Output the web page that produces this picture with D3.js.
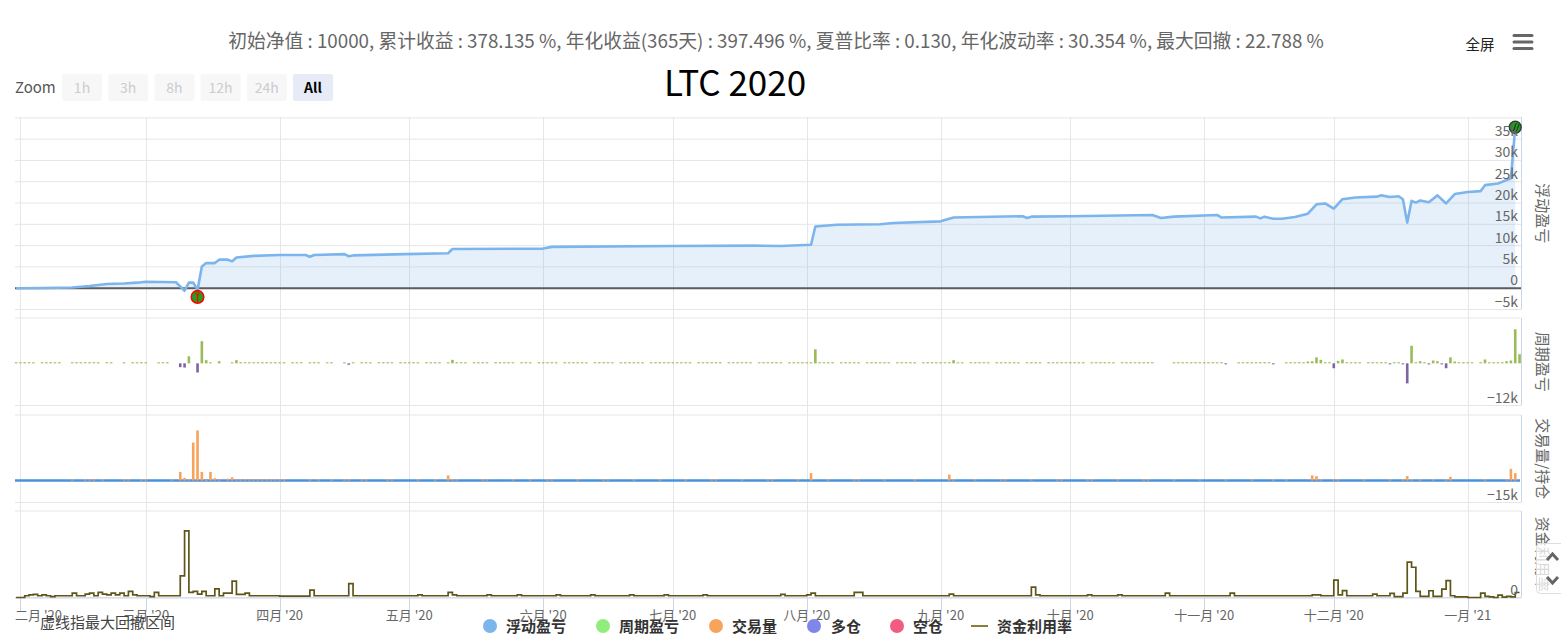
<!DOCTYPE html>
<html><head><meta charset="utf-8">
<script src="https://cdn.jsdelivr.net/npm/d3@7/dist/d3.min.js"></script>
<style>
body{margin:0;background:#fff;}
svg{display:block;font-family:"Noto Sans CJK SC","Noto Sans",sans-serif;}
</style></head><body>
<svg id="c" width="1561" height="642"></svg>
<script>
// ---------------- DATA ----------------
const titleText = "LTC 2020";
const statsText = "初始净值 : 10000, 累计收益 : 378.135 %, 年化收益(365天) : 397.496 %, 夏普比率 : 0.130, 年化波动率 : 30.354 %, 最大回撤 : 22.788 %";
const zoomButtons = ["1h","3h","8h","12h","24h","All"];
const seriesNames = ["浮动盈亏","周期盈亏","交易量","多仓","空仓","资金利用率"];
const paneTitles = ["浮动盈亏","周期盈亏","交易量/持仓","资金利用率"];
const xTickDates = ["2020-02-01","2020-03-01","2020-04-01","2020-05-01","2020-06-01","2020-07-01","2020-08-01","2020-09-01","2020-10-01","2020-11-01","2020-12-01","2021-01-01"];
const xTickLabels = ["二月 '20","三月 '20","四月 '20","五月 '20","六月 '20","七月 '20","八月 '20","九月 '20","十月 '20","十一月 '20","十二月 '20","一月 '21"];
const equityTicks = [-5,0,5,10,15,20,25,30,35,40];   // k

// 浮动盈亏 (k) at change points
const equityDates = ["2020-01-31","2020-02-06","2020-02-13","2020-02-17","2020-02-21","2020-02-25","2020-02-28","2020-03-01","2020-03-08","2020-03-10","2020-03-11","2020-03-12","2020-03-13","2020-03-14","2020-03-15","2020-03-17","2020-03-18","2020-03-20","2020-03-21","2020-03-22","2020-03-26","2020-04-01","2020-04-07","2020-04-08","2020-04-09","2020-04-16","2020-04-17","2020-04-18","2020-04-30","2020-05-10","2020-05-11","2020-06-01","2020-06-03","2020-07-01","2020-07-20","2020-07-26","2020-08-02","2020-08-03","2020-08-08","2020-08-18","2020-08-21","2020-09-01","2020-09-04","2020-09-20","2020-09-21","2020-09-22","2020-10-01","2020-10-20","2020-10-22","2020-10-25","2020-11-04","2020-11-05","2020-11-13","2020-11-14","2020-11-15","2020-11-17","2020-11-19","2020-11-22","2020-11-25","2020-11-27","2020-11-29","2020-12-01","2020-12-03","2020-12-06","2020-12-11","2020-12-12","2020-12-14","2020-12-16","2020-12-17","2020-12-18","2020-12-19","2020-12-20","2020-12-21","2020-12-23","2020-12-25","2020-12-27","2020-12-29","2021-01-01","2021-01-04","2021-01-05","2021-01-08","2021-01-10","2021-01-11","2021-01-12"];
const equityValues = [0,0.05,0.15,0.5,1.0,1.1,1.3,1.5,1.4,-0.6,1.3,1.3,-0.4,5.1,5.9,5.9,6.7,6.7,6.3,7.2,7.6,7.8,7.8,7.4,7.8,8.0,7.5,7.7,8.0,8.2,9.2,9.3,9.7,9.9,10.0,9.9,10.2,14.5,14.9,15.0,15.3,15.7,16.6,16.9,16.5,16.8,16.9,17.2,16.5,16.8,17.2,16.6,16.8,16.4,16.8,16.3,16.3,16.7,17.5,19.7,19.9,18.7,20.9,21.3,21.5,21.8,21.4,21.6,20.9,15.4,20.5,20.1,20.6,20.2,21.8,19.9,22.1,22.6,22.8,24.2,24.6,25.4,25.8,37.8];

// daily series, first day 2020-01-31
const firstDay = "2020-01-31";
// 周期盈亏 (k)
const periodPnl = [0.3,
 .3,.3,.3,.3,0,.3,.3,.3,.3,.3,0,0,.3,.3,.3,.3,.3,.3,.3,0,.3,.3,0,0,.3,0,.3,.3,.3,
 .3,0,0,.3,.3,.3,0,0,-1.1,-1.2,2.0,0,-2.6,6.3,0.9,.3,0,0.6,0,0,.3,0.9,.3,.3,.3,.3,.3,.3,.3,.3,.3,
 .3,.3,0,.3,.3,.3,0,.3,.3,.3,0,.3,.3,0,0,.3,-0.4,.3,0,.3,.3,.3,0,.3,.3,.3,.3,0,.3,.3,
 .3,.3,.3,0,.3,.3,.3,.3,0,.3,1.0,.3,.3,.3,0,.3,.3,.3,.3,0,.3,.3,.3,.3,.3,0,.3,.3,.3,0,.3,
 .3,.3,.3,.3,0,.3,.3,.3,.3,.3,.3,0,.3,.3,.3,.3,.3,0,.3,.3,.3,.3,.3,.3,0,.3,.3,.3,.3,.3,
 .3,.3,.3,.3,.3,0,.3,.3,.3,.3,.3,.3,0,.3,.3,.3,.3,.3,.3,0,.3,.3,.3,.3,.3,.3,0,.3,.3,.3,.3,
 .3,.3,4.0,.3,.3,.3,.3,0,.3,.3,.3,.3,.3,0,.3,.3,.3,.3,.3,.3,0,.3,.3,.3,.3,.3,0,.3,.3,.3,.3,
 .3,.3,.3,0.9,.3,.3,0,.3,.3,.3,.3,.3,0,.3,.3,.3,.3,.3,.3,0,.3,.3,.3,.3,0,.3,.3,.3,.3,.3,
 .3,.3,.3,.3,0,.3,.3,.3,.3,.3,.3,0,.3,.3,.3,.3,.3,.3,.3,.3,0,0,0,0,.3,.3,.3,.3,.3,.3,.3,
 .3,.3,.3,.3,.3,-0.2,0,0,.3,.3,.3,.3,.3,.3,.3,.3,-0.2,0,0,.3,.3,.3,.3,.3,0.5,0.6,1.7,1.0,.3,.3,
 -1.4,0.7,1.1,.3,.3,.3,.3,0,.3,.3,.3,.3,.3,-0.2,.3,.3,-0.2,-5.7,5.0,.3,0.6,.3,-0.3,0.8,0.6,-0.3,-1.4,1.7,0.5,.3,.3,
 .3,.3,0,.3,1.1,.3,.3,.3,.3,0.6,0.8,9.7,2.6];
// 交易量 (k)
const volume = [0,
 0,0,0,0,0,0,0,0,0,0,0,0,.8,0,0,.8,.8,.8,0,.8,0,0,0,0,.8,.8,0,0,.8,
 .8,0,0,0,0,0,.8,0,5.8,1.8,.8,25.9,34.2,5.8,.5,5.8,1.6,.7,0,1.3,2.2,.7,.8,.8,.8,.8,.8,.8,.8,.8,.8,
 .8,.8,0,0,0,0,0,.8,0,.8,0,0,.8,0,0,.8,.8,0,0,.8,.8,0,0,0,0,.8,.8,0,0,0,
 0,0,.8,0,0,0,.8,0,0,3.5,.8,.8,0,0,0,0,0,.8,.8,0,0,0,0,0,.8,0,0,0,.8,0,0,
 0,.8,.8,0,0,0,0,0,.8,0,0,0,0,0,.8,.8,0,0,0,0,0,.8,0,0,0,0,0,.8,0,0,
 0,0,0,.8,0,0,0,0,0,.8,.8,0,0,0,0,0,.8,0,0,0,0,0,.8,.8,0,0,0,0,0,.8,0,
 0,5.0,0,0,0,.8,0,0,0,0,0,.8,.8,0,0,0,0,0,.8,0,0,0,0,0,0,.8,0,0,0,0,0,
 0,0,4.0,.8,0,0,0,0,.8,0,0,0,0,0,.8,.8,0,0,0,0,0,.8,0,0,0,0,0,.8,.8,0,
 0,0,0,0,.8,.8,0,0,0,0,0,.8,0,0,0,0,0,.8,.8,0,0,0,0,0,.8,0,0,0,0,0,.8,
 0,0,0,0,0,.8,0,0,0,0,0,.8,0,0,0,0,.8,0,0,.8,0,0,0,0,0,3.5,3.0,.8,0,0,
 .8,.8,0,0,0,0,0,.8,0,0,0,0,0,.8,0,0,.8,3.0,.8,0,.8,0,0,.8,0,0,.8,2.5,0,0,0,
 0,0,0,0,.8,0,0,0,0,.8,8.0,5.0,0];
// 资金利用率 (%)
const utilization = [0,
 0,2,3,3.5,2,3,2,1,2,2,2,2,5,2,2,4,5,2,6,4,3,5,3,5,2,7,3,2,2,
 2,1,6,2,2,2,2,2,25,77,6,7,4,7,2,2,10,2,5,5,19,3.5,3.5,5,2,2,2,2,2,2,2,
 1.5,1.5,1.5,1.5,1.5,1.5,1.5,8.5,2,2,2,2,2,2,2,2,16,2,2,2,2,2,2,2,2,2,2,2,2,2,
 2,2,3,2,2,2,2,2,2,6,3,2,2,2,2,2,2,2,3,2,2,2,2,2,2,3,2,2,2,2,2,
 2,2,2,3,2,2,2,2,2,2,2,3,2,2,2,2,2,2,2,2,3,2,2,2,2,2,2,2,3,2,
 2,2,2,2,2,2,2,3,2,2,2,2,2,2,2,2,2,2,2,2,2,2,2,2,2,3.5,2,2,2,2,2,
 3,5,2,2,2,2,2,2,2,2,2,6,6,2,2,2,2,2,2,2,2,2,2,2,2,2,2,2,2,2,2,
 2,2,4,2,2,2,2,2,2,2,2,2,2,2,2,2,2,2,2,2,2,12,3,2,2,2,2,2,2,2,
 2,2,2,2,3,2,2,2,2,2,2,3,2,2,2,2,2,2,2,2,2,2,5,2,2,2,2,2,2,2,2,
 2,2,2,2,2,2,5,2,2,2,2,2,2,2,2,2,2,2,2,2,2,2,2,2,2,3,3,2,2,2,
 20,3,8,2,2,2,2,2,2,4,2,2,2,4.7,1,1,5,41,35,7,1.2,1.2,7.8,1.2,1.2,9.7,19.4,2,.8,.8,.8,
 0,0,0,5,1.2,.8,0,2.7,.4,1.2,.8,5.8,5.8];
const maxDrawdownDate = "2020-03-13";
const noteText = "虚线指最大回撤区间";

// ---------------- CHART ----------------
const svg = d3.select("#c");
const parse = d3.utcParse("%Y-%m-%d");
const DAY = 864e5;
const t0 = parse(firstDay).getTime();
const dayDate = i => new Date(t0 + i * DAY);

const L = 15, R = 1521;
const x = d3.scaleUtc().domain([new Date(Date.UTC(2020,0,30,18)), new Date(Date.UTC(2021,0,13,8))]).range([L, R]);
const panes = [
  {top:117, bottom:309.5, domain:[-5,40.2]},
  {top:318, bottom:405.5, domain:[-12,12.9]},
  {top:415, bottom:502.5, domain:[-15,44.7]},
  {top:511, bottom:597.5, domain:[0,100]}
];
panes.forEach(p => p.y = d3.scaleLinear().domain(p.domain).range([p.bottom, p.top]));
const [y1, y2, y3, y4] = panes.map(p => p.y);

const grid = svg.append("g");
// vertical grid
xTickDates.forEach(d => {
  const xx = Math.round(x(parse(d))) + 0.5;
  grid.append("line").attr("x1", xx).attr("x2", xx).attr("y1", 117).attr("y2", 598).attr("stroke", "#e6e6e6");
  grid.append("line").attr("x1", xx).attr("x2", xx).attr("y1", 598).attr("y2", 611).attr("stroke", "#ccd6eb");
});
// horizontal grid pane 1
equityTicks.forEach(v => {
  const yy = y1(v);
  grid.append("line").attr("x1", L).attr("x2", R).attr("y1", yy).attr("y2", yy).attr("stroke", "#e6e6e6");
});
[1,2,3].forEach(k => {
  const p = panes[k];
  [p.top, p.bottom].forEach(yy => grid.append("line").attr("x1", L).attr("x2", R).attr("y1", yy).attr("y2", yy).attr("stroke", "#e6e6e6"));
});
// axis lines
panes.forEach(p => grid.append("line").attr("x1", R + 0.5).attr("x2", R + 0.5).attr("y1", p.top).attr("y2", p.bottom).attr("stroke", "#ccd6eb"));
grid.append("line").attr("x1", L).attr("x2", R).attr("y1", 598).attr("y2", 598).attr("stroke", "#ccd6eb");

// equity
const eq = equityDates.map((d, i) => ({d: parse(d), v: equityValues[i]}));
svg.append("path").datum(eq)
  .attr("d", d3.area().x(d => x(d.d)).y0(y1(0)).y1(d => y1(d.v)))
  .attr("fill", "rgba(124,181,236,0.2)");
svg.append("line").attr("x1", L).attr("x2", R).attr("y1", y1(0)).attr("y2", y1(0)).attr("stroke", "#5c5c5c").attr("stroke-width", 2);
svg.append("path").datum(eq)
  .attr("d", d3.line().x(d => x(d.d)).y(d => y1(d.v)))
  .attr("fill", "none").attr("stroke", "#7cb5ec").attr("stroke-width", 2.6).attr("stroke-linejoin", "round");

// drawdown marker (circle pin)
{
  const md = parse(maxDrawdownDate);
  const pt = eq.find(e => +e.d === +md);
  const mx = x(md), my = y1(pt.v);
  const g = svg.append("g");
  g.append("circle").attr("cx", mx).attr("cy", my + 7).attr("r", 6.3).attr("fill", "#20a020").attr("stroke", "#ff0000").attr("stroke-width", 1.5);
  g.append("line").attr("x1", mx).attr("x2", mx).attr("y1", my + 4).attr("y2", my + 12.5).attr("stroke", "#ff0000").attr("stroke-width", 1.2);
  g.append("circle").attr("cx", mx).attr("cy", my + 3.5).attr("r", 1.6).attr("fill", "none").attr("stroke", "#ff0000").attr("stroke-width", 1);
}

// pane 2 bars
const bw = 2.6;
svg.append("g").selectAll("rect").data(periodPnl.map((v, i) => ({d: dayDate(i), v})).filter(d => d.v !== 0))
  .join("rect")
  .attr("x", d => x(d.d) - bw / 2).attr("width", bw)
  .attr("y", d => Math.min(y2(d.v), y2(0))).attr("height", d => Math.max(1, Math.abs(y2(d.v) - y2(0))))
  .attr("fill", d => d.v >= 0 ? "#9bbb59" : "#8064a2");

// pane 3: position lines then volume bars
svg.append("line").attr("x1", L).attr("x2", R - 1).attr("y1", y3(0)).attr("y2", y3(0)).attr("stroke", "#4a90dc").attr("stroke-width", 2.5);
svg.append("g").selectAll("rect").data(volume.map((v, i) => ({d: dayDate(i), v})).filter(d => d.v !== 0))
  .join("rect")
  .attr("x", d => x(d.d) - bw / 2).attr("width", bw)
  .attr("y", d => y3(d.v)).attr("height", d => Math.max(1, y3(0) - y3(d.v)))
  .attr("fill", "#f7a35c");

// pane 4 step line
svg.append("path").datum(utilization.map((v, i) => ({d: dayDate(i), v})))
  .attr("d", d3.line().curve(d3.curveStepAfter).x(d => x(d.d)).y(d => y4(d.v)))
  .attr("fill", "none").attr("stroke", "#5f5519").attr("stroke-width", 1.7);

// end marker
{
  const last = eq[eq.length - 1];
  const ex = x(last.d), ey = y1(last.v);
  svg.append("circle").attr("cx", ex).attr("cy", ey).attr("r", 6).attr("fill", "#1e9a1e").attr("stroke", "#333").attr("stroke-width", 1.2);
  svg.append("path").attr("d", `M${ex-2},${ey+4}L${ex+1},${ey-4}M${ex+1},${ey+4}L${ex+4},${ey-3}`).attr("stroke", "#222").attr("stroke-width", 1);
}

// y labels
const lab = svg.append("g").attr("font-size", 14).attr("fill", "#666").attr("text-anchor", "end");
const fmtK = v => v === 0 ? "0" : (v < 0 ? "\u2212" + (-v) : v) + "k";
equityTicks.filter(v => v < 40).forEach(v => lab.append("text").attr("x", 1518).attr("y", y1(v) - 3).text(fmtK(v)));
lab.append("text").attr("x", 1518).attr("y", y2(-12) - 3).text(fmtK(-12));
lab.append("text").attr("x", 1518).attr("y", y3(-15) - 3).text(fmtK(-15));
lab.append("text").attr("x", 1518).attr("y", y4(0) - 3).text("0");

// pane titles
panes.forEach((p, k) => {
  svg.append("text").attr("transform", `translate(1543,${(p.top + p.bottom) / 2}) rotate(90)`)
    .attr("text-anchor", "middle").attr("dominant-baseline", "central")
    .attr("font-size", 15).attr("fill", "#666").text(paneTitles[k]);
});

// x labels
const xl = svg.append("g").attr("font-size", 13).attr("fill", "#666");
xTickDates.forEach((d, i) => {
  const t = xl.append("text").attr("x", x(parse(d))).attr("y", 620).attr("text-anchor", "middle").text(xTickLabels[i]);
  const bb = t.node().getBBox();
  if (bb.x < L) t.attr("text-anchor", "start").attr("x", L);
});
svg.append("text").attr("x", 40).attr("y", 627.5).attr("font-size", 15).attr("fill", "#444").text(noteText);

// navigation widget
{
  const g = svg.append("g");
  g.append("rect").attr("x", 1536.5).attr("y", 543.5).attr("width", 30).attr("height", 50).attr("rx", 4)
    .attr("fill", "rgba(255,255,255,0.75)").attr("stroke", "#ddd");
  g.append("path").attr("d", "M1547,560L1552.5,554L1558,560").attr("fill", "none").attr("stroke", "#666").attr("stroke-width", 3);
  g.append("path").attr("d", "M1547,577L1552.5,583L1558,577").attr("fill", "none").attr("stroke", "#666").attr("stroke-width", 3);
}

// legend
const legendX = [490, 603, 716, 814, 897, 980];
const legendTX = [506, 619, 732, 831, 913, 997];
const legendColors = ["#7cb5ec","#90ed7d","#f7a35c","#8085e9","#f15c80","#8b7d3a"];
seriesNames.forEach((n, i) => {
  if (i < 5) svg.append("circle").attr("cx", legendX[i]).attr("cy", 626).attr("r", 7).attr("fill", legendColors[i]);
  else svg.append("line").attr("x1", 971).attr("x2", 988).attr("y1", 626).attr("y2", 626).attr("stroke", legendColors[i]).attr("stroke-width", 2);
  svg.append("text").attr("x", legendTX[i]).attr("y", 632).attr("font-size", 15).attr("font-weight", "bold").attr("fill", "#333").text(n);
});

// header
const st = svg.append("text").attr("x", 776).attr("y", 48).attr("text-anchor", "middle").attr("font-size", 16).attr("fill", "#666").text(statsText);
{
  const w = st.node().getComputedTextLength();
  st.attr("font-size", 16 * 1097 / w);
}
svg.append("text").attr("x", 735).attr("y", 96).attr("text-anchor", "middle").attr("font-size", 35).attr("fill", "#000").text(titleText);
svg.append("text").attr("x", 1480).attr("y", 49.5).attr("text-anchor", "middle").attr("font-size", 14.5).attr("fill", "#222").text("全屏");
[35.5, 42, 48.5].forEach(yy => svg.append("line").attr("x1", 1514).attr("x2", 1532).attr("y1", yy).attr("y2", yy).attr("stroke", "#666").attr("stroke-width", 3).attr("stroke-linecap", "round"));

svg.append("text").attr("x", 15).attr("y", 93).attr("font-size", 15).attr("fill", "#555").text("Zoom");
zoomButtons.forEach((b, i) => {
  const bx = 62 + i * 46.2;
  const on = b === "All";
  svg.append("rect").attr("x", bx).attr("y", 74).attr("width", 40).attr("height", 27).attr("rx", 2).attr("fill", on ? "#e6ebf5" : "#f7f7f7");
  svg.append("text").attr("x", bx + 20).attr("y", 92.5).attr("text-anchor", "middle").attr("font-size", 14)
    .attr("font-weight", on ? "bold" : "normal").attr("fill", on ? "#000" : "#cccccc").text(b);
});
</script>
</body></html>
